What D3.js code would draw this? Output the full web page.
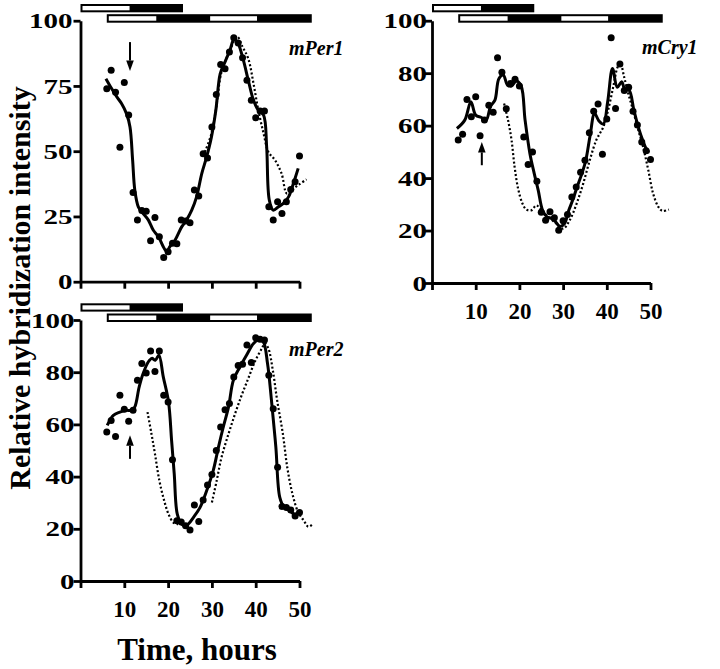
<!DOCTYPE html>
<html><head><meta charset="utf-8">
<script src="https://cdn.jsdelivr.net/npm/d3@7"></script>
<style>html,body{margin:0;padding:0;background:#fff}</style>
</head><body><svg id="c" width="720" height="669"></svg>
<script>
// ---------- DATA ----------
const sampleHours = [6,7,8,9,10,11,12,13,14,15,16,17,18,19,20,21,22,23,24,25,26,27,28,29,30,31,32,33,34,35,36,37,38,39,40,41,42,43,44,45,46,47,48,49,50];

const mPer1Values = [73.9,81.0,72.6,51.5,76.3,63.9,34.2,23.6,27.3,27.0,15.7,24.6,17.2,9.3,11.5,14.7,14.5,23.6,23.3,22.6,35.1,32.8,49.0,47.4,59.3,71.7,83.2,81.6,88.0,93.5,91.5,85.8,77.2,69.5,62.8,65.4,65.4,28.7,23.6,30.6,26.1,30.6,35.3,38.3,48.2];
const mCry1Values = [54.5,56.7,70.0,63.4,71.0,56.1,62.1,67.8,65.1,85.9,80.3,66.4,76.1,77.7,75.1,55.7,45.2,49.9,38.8,27.0,23.9,27.2,24.9,20.1,23.7,26.1,32.8,36.6,42.2,46.8,57.3,65.5,68.2,49.1,62.5,93.5,66.5,83.5,73.4,74.6,65.5,60.2,53.8,50.4,47.1];
const mPer2Values = [57.1,61.5,55.4,71.2,65.8,61.2,65.4,76.9,83.3,79.7,88.1,80.3,88.1,71.2,68.6,46.5,23.1,22.6,21.2,19.5,29.1,22.8,31.0,36.8,40.8,50.0,59.0,65.6,68.0,78.2,82.6,83.0,90.4,83.7,93.2,92.6,92.3,78.8,66.0,43.6,28.5,28.2,27.2,24.9,26.2];

// smoothed curves [hour, value]
const mPer1Fit = [[5.8,77.8],[7.1,74.0],[8.3,70.8],[9.4,68.2],[10.5,64.4],[11.3,59.3],[11.9,46.6],[12.4,35.1],[13.2,28.7],[14.3,26.1],[15.5,23.6],[16.6,19.8],[17.8,17.2],[18.9,13.4],[19.7,11.5],[20.4,13.4],[21.6,16.0],[23.1,21.0],[24.2,23.6],[25.4,27.4],[26.5,32.5],[27.7,41.5],[28.8,47.8],[29.9,55.5],[30.9,65.7],[31.9,79.7],[33.0,84.2],[34.1,88.6],[35.1,93.1],[36.0,91.2],[37.2,84.8],[38.3,77.2],[39.5,69.5],[40.6,65.7],[41.8,63.8],[42.5,51.7],[43.1,31.3],[44.0,27.4],[45.2,28.7],[46.3,30.0],[47.5,32.5],[48.6,37.6],[49.7,43.4]];
const mPer1Dotted = [[28.4,49.7],[29.9,56.8],[31.0,67.0],[32.2,80.4],[34.1,88.6],[35.8,93.8],[37.0,90.0],[38.3,85.5],[39.5,75.9],[40.6,65.7],[41.8,56.8],[42.9,49.7],[44.4,46.6],[45.9,41.5],[47.1,33.8],[48.2,35.1],[49.7,37.0],[51.6,39.2]];

const mCry1Fit = [[5.7,58.9],[7.5,62.1],[8.9,69.1],[10.0,64.0],[11.3,63.1],[12.4,62.1],[13.4,67.4],[14.4,69.7],[15.3,77.9],[16.3,79.3],[17.3,75.4],[18.2,75.1],[19.3,77.0],[20.4,75.1],[21.3,62.1],[22.4,49.4],[23.4,41.7],[24.3,35.4],[25.3,27.7],[26.3,25.2],[27.3,24.6],[28.3,23.3],[29.2,21.6],[30.3,22.6],[31.3,27.7],[32.2,31.6],[33.2,36.6],[34.3,41.7],[35.2,46.8],[36.2,56.4],[37.2,64.6],[38.2,61.8],[39.2,60.6],[40.2,69.1],[41.3,81.8],[42.4,74.6],[43.4,76.7],[44.2,73.5],[45.1,73.5],[46.2,65.9],[47.2,59.5],[48.2,54.5],[49.3,50.4],[49.8,49.9]];
const mCry1Dotted = [[16.5,68.4],[17.4,62.1],[18.2,54.5],[18.9,44.3],[19.7,36.0],[20.7,30.3],[21.6,28.0],[22.7,27.7],[23.9,29.6],[25.0,27.7],[26.6,25.2],[28.5,22.6],[30.0,20.7],[31.5,23.9],[33.1,30.3],[34.6,37.9],[36.1,46.8],[37.6,54.5],[39.2,59.5],[40.3,65.9],[41.5,75.0],[42.4,82.0],[43.1,84.0],[43.9,79.0],[44.9,72.3],[46.0,65.9],[47.2,58.3],[48.3,51.9],[49.5,43.0],[50.6,34.1],[51.8,29.0],[52.7,27.5],[54.2,28.0]];

const mPer2Fit = [[6.1,59.6],[7.5,63.5],[9.0,64.7],[10.4,65.4],[11.7,65.4],[12.4,66.7],[13.4,74.4],[14.3,79.5],[15.5,84.0],[16.3,85.3],[17.1,84.6],[17.9,86.5],[18.9,78.2],[20.1,68.6],[20.8,53.8],[21.4,41.0],[22.1,25.6],[23.1,21.8],[23.9,21.2],[24.6,21.8],[25.8,24.4],[27.3,28.2],[28.8,34.6],[30.3,42.3],[31.5,51.3],[32.6,59.0],[33.8,66.7],[34.9,76.9],[36.4,82.0],[37.9,86.5],[39.5,91.0],[40.6,92.3],[41.7,91.7],[42.7,83.3],[43.6,69.2],[44.6,51.3],[45.5,32.0],[46.5,28.2],[47.8,26.9],[48.9,25.6],[49.9,26.3]];
const mPer2DottedA = [[15.3,64.7],[16.2,56.4],[17.0,48.7],[18.0,38.5],[19.1,30.8],[20.1,25.6],[21.2,22.4],[22.3,21.8]];
const mPer2DottedB = [[30.0,30.1],[31.1,38.5],[32.2,47.4],[33.8,56.4],[35.3,64.1],[36.8,71.2],[38.3,77.6],[39.8,84.0],[41.4,89.1],[42.1,91.0],[42.9,89.1],[43.9,80.8],[44.9,69.2],[46.2,56.4],[47.2,43.6],[48.4,33.3],[49.7,26.3],[51.0,23.1],[52.0,20.8],[53.0,21.8]];

// arrows: [hour, from value, to value (tip)]
const mPer1Arrow = [11.3, 91.8, 80.7];
const mCry1Arrow = [11.4, 44.9, 53.8];
const mPer2Arrow = [11.3, 46.8, 55.8];

// light/dark bars (hours)
const upperBar = [0, 23.4];
const upperLight = [[0, 11.2]];
const lowerBar = [6, 52.8];
const lowerLight = [[6, 17.3], [29.6, 40.3]];

const xTicks = [0,10,20,30,40,50];
const yTicks25 = [0,25,50,75,100];
const yTicks20 = [0,20,40,60,80,100];

// ---------- DRAW ----------
const svg = d3.select("#c");
svg.append("rect").attr("width",720).attr("height",669).attr("fill","#fff");
const FONT = "'Liberation Serif','Times New Roman',serif";

const panels = [
  {name:"mPer1", values:mPer1Values, fit:mPer1Fit, dotted:[mPer1Dotted], arrow:mPer1Arrow,
   yTicks:yTicks25, xr:[80.5,299.5], yr:[281.7,20.7], xLabels:false, lab:[289,55], labGap:8},
  {name:"mCry1", values:mCry1Values, fit:mCry1Fit, dotted:[mCry1Dotted], arrow:mCry1Arrow,
   yTicks:yTicks20, xr:[432,650.5], yr:[283,20.7], xLabels:true, lab:[642,54], labGap:5},
  {name:"mPer2", values:mPer2Values, fit:mPer2Fit, dotted:[mPer2DottedA, mPer2DottedB], arrow:mPer2Arrow,
   yTicks:yTicks20, xr:[80.5,299.5], yr:[581,320], xLabels:true, lab:[289,356], labGap:6}
];

panels.forEach(p => {
  const x = d3.scaleLinear().domain([0,50]).range(p.xr);
  const y = d3.scaleLinear().domain([0,100]).range(p.yr);
  const g = svg.append("g");
  const top = p.yr[1];

  // bars
  function bar(span, lights, y0, h) {
    g.append("rect").attr("x", x(span[0])).attr("y", y0).attr("width", x(span[1]) - x(span[0]))
      .attr("height", h).attr("fill", "#000");
    lights.forEach(l => {
      const a = Math.max(x(l[0]), x(span[0]) + 2);
      g.append("rect").attr("x", a).attr("y", y0 + 2).attr("width", x(l[1]) - a)
        .attr("height", h - 4).attr("fill", "#fff");
    });
  }
  bar(upperBar, upperLight, top - 16.7, 8.3);
  bar(lowerBar, lowerLight, top - 6.5, 8.5);

  // axes
  const ya = d3.axisLeft(y).tickValues(p.yTicks).tickSize(7).tickSizeOuter(0).tickPadding(0);
  const yg = g.append("g").attr("transform", `translate(${p.xr[0]},0)`).call(ya);
  yg.selectAll("path,line").attr("stroke","#000").attr("stroke-width",2.8);
  yg.selectAll("text").attr("font-family",FONT).attr("font-weight","bold").attr("font-size",21)
    .attr("fill","#000").attr("x", -p.labGap).attr("dy","0.34em")
    .attr("textLength", d => String(d).length * 14.5).attr("lengthAdjust","spacingAndGlyphs");

  const xa = d3.axisBottom(x).tickValues(xTicks).tickSize(7).tickSizeOuter(0)
    .tickFormat(d => (p.xLabels && d !== 0) ? d : "");
  const xg = g.append("g").attr("transform", `translate(0,${p.yr[0]})`).call(xa);
  xg.selectAll("path,line").attr("stroke","#000").attr("stroke-width",2.8);
  xg.selectAll("text").attr("font-family",FONT).attr("font-weight","bold").attr("font-size",23)
    .attr("fill","#000").attr("y", 36).attr("dy", 0);

  // dotted lines
  const line = d3.line().x(d => x(d[0])).y(d => y(d[1])).curve(d3.curveCatmullRom.alpha(0.5));
  p.dotted.forEach(seg => {
    g.append("path").attr("d", line(seg)).attr("fill","none").attr("stroke","#000")
      .attr("stroke-width",2.2).attr("stroke-dasharray","2,2.2");
  });
  // fit line
  g.append("path").attr("d", line(p.fit)).attr("fill","none").attr("stroke","#000")
    .attr("stroke-width",3).attr("stroke-linejoin","round");
  // dots
  g.selectAll("circle.dot").data(sampleHours.map((h,i) => [h, p.values[i]])).enter()
    .append("circle").attr("cx", d => x(d[0])).attr("cy", d => y(d[1])).attr("r", 3.5).attr("fill","#000");

  // arrow
  const ax = x(p.arrow[0]), y1 = y(p.arrow[1]), y2 = y(p.arrow[2]);
  const dir = Math.sign(y2 - y1);
  const hb = y2 - dir * 10.5;
  g.append("line").attr("x1",ax).attr("x2",ax).attr("y1",y1).attr("y2",hb).attr("stroke","#000").attr("stroke-width",2);
  g.append("path").attr("d", `M${ax-3.8},${hb}L${ax+3.8},${hb}L${ax},${y2}Z`).attr("fill","#000");

  // label
  g.append("text").attr("x", p.lab[0]).attr("y", p.lab[1]).text(p.name)
    .attr("font-family",FONT).attr("font-weight","bold").attr("font-style","italic")
    .attr("font-size",20).attr("fill","#000");
});

// axis titles
svg.append("text").attr("transform","translate(30,288) rotate(-90)").attr("text-anchor","middle")
  .attr("font-family",FONT).attr("font-weight","bold").attr("font-size",30).attr("fill","#000")
  .text("Relative hybridization intensity");
svg.append("text").attr("x",197).attr("y",660).attr("text-anchor","middle")
  .attr("font-family",FONT).attr("font-weight","bold").attr("font-size",31).attr("fill","#000")
  .text("Time, hours");
</script></body></html>
